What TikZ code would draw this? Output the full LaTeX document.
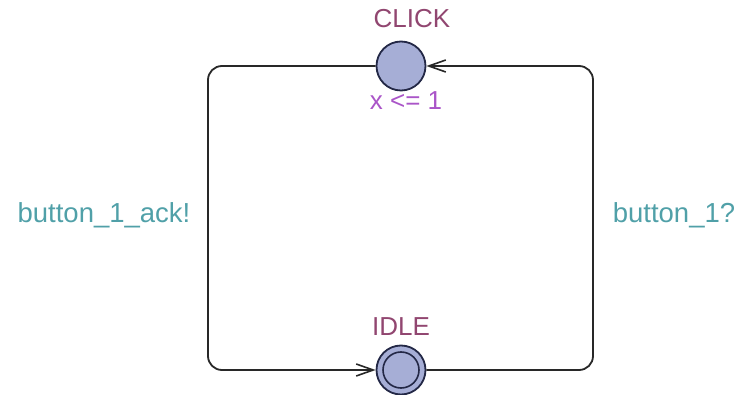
\documentclass[tikz,border=0pt]{standalone}
\usepackage{fontspec}
\setmainfont{Liberation Sans}
\usetikzlibrary{arrows.meta}
\definecolor{locfill}{RGB}{166,174,214}
\definecolor{locdraw}{RGB}{35,40,70}
\definecolor{namecol}{RGB}{145,70,112}
\definecolor{invcol}{RGB}{170,85,200}
\definecolor{synccol}{RGB}{80,160,168}
\definecolor{edgecol}{RGB}{40,40,40}
\tikzset{
  x=1pt, y=-1pt,
  locnode/.style={circle, draw=locdraw, fill=locfill, line width=1.8pt, minimum size=49pt, inner sep=0pt},
  innerring/.style={circle, draw=locdraw, line width=1.6pt, minimum size=36pt, inner sep=0pt},
  lbltext/.style={font=\fontsize{26}{30}\selectfont, inner sep=0pt, anchor=base},
  locname/.style={lbltext, text=namecol},
  locinv/.style={lbltext, text=invcol},
  synclbl/.style={lbltext, font=\fontsize{27.5}{30}\selectfont, text=synccol},
  edgeline/.style={draw=edgecol, line width=1.8pt, rounded corners=14pt, -{Straight Barb[length=17pt,width=12pt,line width=1.6pt]}}
}
\begin{document}
\begin{tikzpicture}
\useasboundingbox (0,0) rectangle (739,395);
\node[locnode] (CLICK) at (401,66) {};
\node[locnode] (IDLE) at (401,370) {};
\node[innerring] (IDLEin) at (401,370) {};
\node[locname] (clickname) at (412,28) {CLICK};
\node[locinv] (clickinv) at (406,110) {x <= 1};
\node[locname] (idlename) at (401,335) {IDLE};
\coordinate (tl) at (208,66);
\coordinate (bl) at (208,370);
\coordinate (tr) at (593,66);
\coordinate (br) at (593,370);
\draw[edgeline] (CLICK.west) -- (tl) -- (bl) -- (IDLE.west);
\draw[edgeline] (IDLE.east) -- (br) -- (tr) -- (CLICK.east);
\node[synclbl] (ack) at (104,223) {button\_1\_ack!};
\node[synclbl] (btn) at (674,223) {button\_1?};
\end{tikzpicture}
\end{document}
